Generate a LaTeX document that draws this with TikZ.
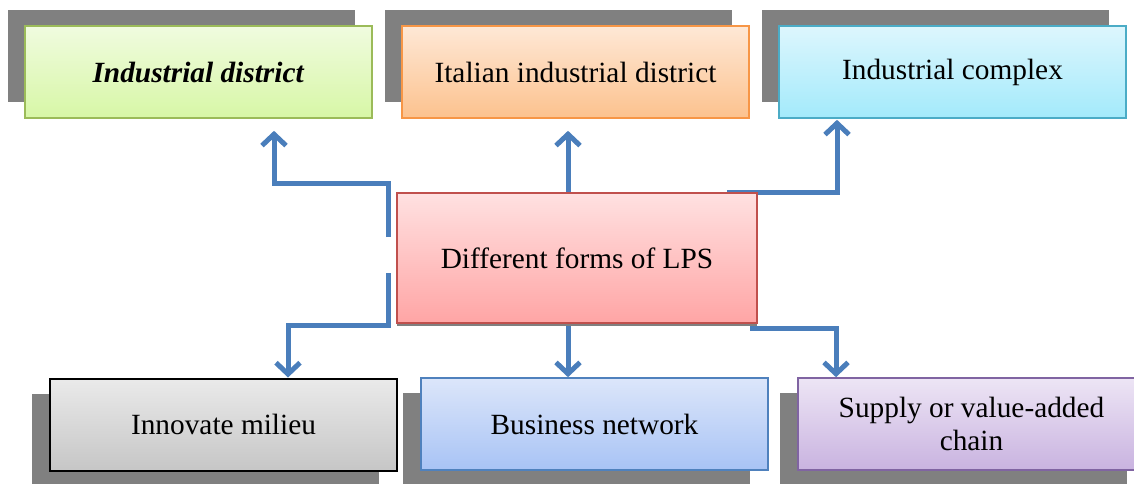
\documentclass[tikz,border=0pt]{standalone}
\usepackage{fontspec}
\setmainfont{Liberation Serif}
\usetikzlibrary{calc,arrows.meta,shadows,backgrounds}
\definecolor{conncol}{HTML}{4A7EBB}
\definecolor{shadowgray}{HTML}{808080}
\definecolor{grnline}{HTML}{9BBB59}
\definecolor{grntop}{HTML}{F0FBDF}
\definecolor{grnbot}{HTML}{D7F7A6}
\definecolor{orgline}{HTML}{F79646}
\definecolor{orgtop}{HTML}{FEE8D6}
\definecolor{orgbot}{HTML}{FCC28E}
\definecolor{cynline}{HTML}{4BACC6}
\definecolor{cyntop}{HTML}{DDF6FD}
\definecolor{cynbot}{HTML}{A3EAFB}
\definecolor{redline}{HTML}{C0504D}
\definecolor{redtop}{HTML}{FFE1E1}
\definecolor{redbot}{HTML}{FFA5A5}
\definecolor{grytop}{HTML}{EAEAEA}
\definecolor{grybot}{HTML}{C6C6C6}
\definecolor{bluline}{HTML}{4F81BD}
\definecolor{blutop}{HTML}{DCE6FA}
\definecolor{blubot}{HTML}{A8C3F5}
\definecolor{purline}{HTML}{8064A2}
\definecolor{purtop}{HTML}{EDE5F5}
\definecolor{purbot}{HTML}{C9B3E0}
\begin{document}
\begin{tikzpicture}[x=0.75pt,y=-0.75pt,
  box/.style={draw,line width=1.2pt,minimum width=260pt,minimum height=69pt,
    inner sep=0pt,align=center,font=\fontsize{22}{25}\selectfont},
  upbox/.style={box,general shadow={shadow xshift=-12.75pt,shadow yshift=12pt,fill=shadowgray}},
  downbox/.style={box,general shadow={shadow xshift=-13.5pt,shadow yshift=-11.5pt,fill=shadowgray}},
  conn/.style={conncol,line width=3.75pt,-{Straight Barb[length=8.5pt,width=18pt]}}]
\useasboundingbox (0,0) rectangle (1134,483);

\node[upbox,draw=grnline,top color=grntop,bottom color=grnbot] (ind) at (198.5,72) {\textbf{\textit{Industrial district}}};
\node[upbox,draw=orgline,top color=orgtop,bottom color=orgbot] (ita) at (575.5,72) {Italian industrial district};
\node[upbox,draw=cynline,top color=cyntop,bottom color=cynbot] (cpx) at (952.5,72) {Industrial complex};

\node[box,draw=redline,minimum width=270pt,minimum height=97.5pt,
  top color=redtop,bottom color=redbot,
  general shadow={shadow yshift=-2.25pt,fill=shadowgray}] (lps) at (577,258) {Different forms of LPS};

\node[downbox,draw=black,line width=1.5pt,top color=grytop,bottom color=grybot] (inn) at (223.5,424.5) {Innovate milieu};
\node[downbox,draw=bluline,top color=blutop,bottom color=blubot] (bus) at (594.5,424) {Business network};
\node[downbox,draw=purline,top color=purtop,bottom color=purbot] (sup) at (971.5,424) {Supply or value-added\\chain};

\coordinate (l1) at (388,237);
\coordinate (l0) at (388,183);
\coordinate (l2) at (388,273);
\coordinate (l3) at (388,325);
\coordinate (r1) at (727,192);
\coordinate (r2) at (750,328);

\begin{scope}[on background layer]
\draw[conn] (l1) -- (l0) -| ($(ind.south)+(75.5,12)$);
\draw[conn] (l2) -- (l3) -| ($(inn.north)+(64.5,0)$);
\draw[conn] ($(lps.north)+(-9,0)$) -- ($(ita.south)+(-7.5,12)$);
\draw[conn] ($(lps.south)+(-9,0)$) -- ($(bus.north)+(-26.5,0)$);
\draw[conn] (r1) -| ($(cpx.south)+(-115.5,1)$);
\draw[conn] (r2) -| ($(sup.north)+(-135.5,0)$);
\end{scope}
\end{tikzpicture}
\end{document}
